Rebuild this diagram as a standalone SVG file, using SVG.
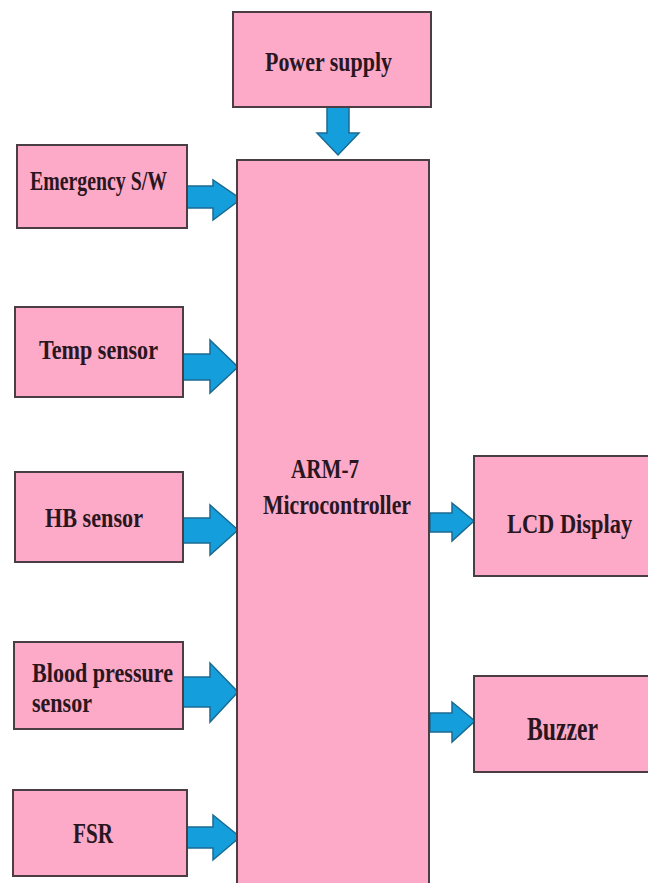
<svg xmlns="http://www.w3.org/2000/svg" width="648" height="883" viewBox="0 0 648 883">
<style>
.box{fill:#fcaac7;stroke:#4a3d44;stroke-width:2}
.arr{fill:#149fdc;stroke:#1b6a92;stroke-width:1.5;stroke-linejoin:miter}
text{font-family:"Liberation Serif","Times New Roman",serif;font-weight:bold;fill:#2a1620;font-size:27px}
</style>
<rect width="648" height="883" fill="#ffffff"/>
<g id="connectors">
<path class="arr" d="M327,107 H349 V133 H359 L338,155 L317,133 H327 Z"/>
<path class="arr" d="M187,186 H213 V180 L241,199 L213,220 V208 H187 Z"/>
<path class="arr" d="M183,354 H210 V340 L238,367 L210,393 V380 H183 Z"/>
<path class="arr" d="M183,518 H210 V505 L238,530 L210,555 V543 H183 Z"/>
<path class="arr" d="M183,677 H210 V663 L238,692 L210,722 V707 H183 Z"/>
<path class="arr" d="M187,827 H213 V815 L240,837 L213,860 V848 H187 Z"/>
<path class="arr" d="M430,513 H452 V503 L474,521 L452,541 V532 H430 Z"/>
<path class="arr" d="M430,713 H452 V702 L475,721 L452,742 V732 H430 Z"/>
</g>
<g id="power">
<rect class="box" x="233" y="12" width="198" height="95"/>
<text x="265" y="71" textLength="127" lengthAdjust="spacingAndGlyphs">Power supply</text>
</g>
<g id="arm7">
<rect class="box" x="237" y="160" width="192" height="740"/>
<text x="291" y="478" textLength="68" lengthAdjust="spacingAndGlyphs">ARM-7</text>
<text x="263" y="514" textLength="148" lengthAdjust="spacingAndGlyphs">Microcontroller</text>
</g>
<g id="emergency">
<rect class="box" x="17" y="145" width="170" height="83"/>
<text x="30" y="190" textLength="137" lengthAdjust="spacingAndGlyphs">Emergency S/W</text>
</g>
<g id="temp">
<rect class="box" x="15" y="307" width="168" height="90"/>
<text x="39" y="359" textLength="119" lengthAdjust="spacingAndGlyphs">Temp sensor</text>
</g>
<g id="hb">
<rect class="box" x="15" y="472" width="168" height="90"/>
<text x="45" y="527" textLength="98" lengthAdjust="spacingAndGlyphs">HB sensor</text>
</g>
<g id="bp">
<rect class="box" x="14" y="642" width="169" height="87"/>
<text x="32" y="682" textLength="141" lengthAdjust="spacingAndGlyphs">Blood pressure</text>
<text x="32" y="712" textLength="60" lengthAdjust="spacingAndGlyphs">sensor</text>
</g>
<g id="fsr">
<rect class="box" x="13" y="790" width="174" height="86"/>
<text x="73" y="843" textLength="40" lengthAdjust="spacingAndGlyphs" style="font-size:30px">FSR</text>
</g>
<g id="lcd">
<rect class="box" x="474" y="456" width="175" height="120"/>
<text transform="translate(507,533) scale(0.83,1)" x="0" y="0">LCD Display</text>
</g>
<g id="buzzer">
<rect class="box" x="474" y="676" width="175" height="96"/>
<text x="527" y="740" textLength="71" lengthAdjust="spacingAndGlyphs" style="font-size:34px">Buzzer</text>
</g>
</svg>
